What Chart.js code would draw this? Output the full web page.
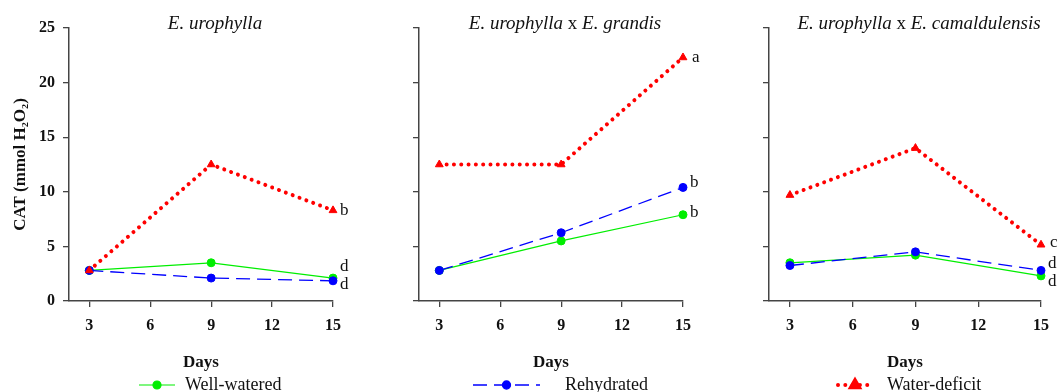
<!DOCTYPE html>
<html>
<head>
<meta charset="utf-8">
<script src="https://cdn.jsdelivr.net/npm/chart.js@4.4.0/dist/chart.umd.min.js"></script>
<style>
html, body { margin: 0; padding: 0; background: #fff; }
#wrap { position: relative; width: 1061px; height: 392px; overflow: hidden; }
canvas { position: absolute; top: 0; }
</style>
</head>
<body>
<div id="wrap">
  <canvas id="c0" width="350" height="392" style="left:0px"></canvas>
  <canvas id="c1" width="350" height="392" style="left:350px"></canvas>
  <canvas id="c2" width="361" height="392" style="left:700px"></canvas>
</div>
<script>
// giorni di campionamento
const days = [3, 9, 15];
const xTicks = [3, 6, 9, 12, 15];
const yTicks = [0, 5, 10, 15, 20, 25];

const seriesNames = ['Water-deficit', 'Rehydrated', 'Well-watered'];

// E. urophylla
const uroDeficit = [2.8, 12.5, 8.3];
const uroRehyd = [2.8, 2.1, 1.85];
const uroWell = [2.8, 3.5, 2.1];
// E. urophylla x E. grandis
const grDeficit = [12.5, 12.5, 22.3];
const grRehyd = [2.8, 6.25, 10.4];
const grWell = [2.8, 5.5, 7.9];
// E. urophylla x E. camaldulensis
const caDeficit = [9.7, 14.0, 5.15];
const caRehyd = [3.25, 4.5, 2.8];
const caWell = [3.5, 4.2, 2.3];

// lettere al giorno 15 (deficit, rehydrated, well-watered)
const uroLetters = ['b', 'd', 'd'];
const grLetters = ['a', 'b', 'b'];
const caLetters = ['c', 'd', 'd'];

const serif = "'Palatino Linotype', 'Book Antiqua', Palatino, 'Liberation Serif', serif";
const axisColor = '#444';
const textColor = '#111';

const styles = [
  { color: '#ff0000', width: 4, dash: [0.01, 7.3], cap: 'round', point: 'triangle', radius: 4.5 },
  { color: '#0000ff', width: 1.3, dash: [14, 7], cap: 'butt', point: 'circle', radius: 4 },
  { color: '#00ee00', width: 1.2, dash: [], cap: 'butt', point: 'circle', radius: 4 }
];

const panels = [
  {
    id: 'c0', values: [uroDeficit, uroRehyd, uroWell], letters: uroLetters,
    title: [['E. urophylla', true]],
    letterOffsets: [[7, 0], [7, 4], [7, -12]],
    legend: { series: 2, x0: 139, x1: 175, tx: 185 }
  },
  {
    id: 'c1', values: [grDeficit, grRehyd, grWell], letters: grLetters,
    title: [['E. urophylla', true], [' x ', false], ['E. grandis', true]],
    letterOffsets: [[9, 0], [7, -5], [7, -2]],
    legend: { series: 1, x0: 123, x1: 190, tx: 215 }
  },
  {
    id: 'c2', values: [caDeficit, caRehyd, caWell], letters: caLetters,
    title: [['E. urophylla', true], [' x ', false], ['E. camaldulensis', true]],
    letterOffsets: [[9, -2], [7, -7], [7, 6]],
    legend: { series: 0, x0: 138, x1: 172, tx: 187 }
  }
];

const decoPlugin = {
  id: 'deco',
  afterDatasetsDraw(chart, args, opts) {
    const ctx = chart.ctx;
    const xs = chart.scales.x, ys = chart.scales.y;
    ctx.save();
    ctx.font = '17px ' + serif;
    ctx.fillStyle = textColor;
    ctx.textBaseline = 'middle';
    ctx.textAlign = 'left';
    opts.letters.forEach((l, i) => {
      const vals = opts.values[i];
      const px = xs.getPixelForValue(days[days.length - 1]);
      const py = ys.getPixelForValue(vals[vals.length - 1]);
      ctx.fillText(l, px + opts.letterOffsets[i][0], py + opts.letterOffsets[i][1]);
    });
    ctx.restore();
  },
  afterDraw(chart, args, opts) {
    const ctx = chart.ctx;
    const area = chart.chartArea;
    ctx.save();
    // titolo
    ctx.fillStyle = textColor;
    ctx.textBaseline = 'middle';
    ctx.textAlign = 'left';
    const fonts = opts.title.map(p => (p[1] ? 'italic ' : '') + '19px ' + serif);
    let total = 0;
    opts.title.forEach((p, i) => { ctx.font = fonts[i]; total += ctx.measureText(p[0]).width; });
    let x = (area.left + area.right) / 2 + 14 - total / 2;
    opts.title.forEach((p, i) => {
      ctx.font = fonts[i];
      ctx.fillText(p[0], x, 24);
      x += ctx.measureText(p[0]).width;
    });
    // legenda
    const lg = opts.legend;
    const ds = chart.data.datasets[lg.series];
    const y = 385;
    ctx.strokeStyle = ds.borderColor;
    ctx.lineWidth = ds.borderWidth;
    ctx.lineCap = ds.borderCapStyle;
    ctx.setLineDash(ds.borderDash);
    ctx.beginPath();
    ctx.moveTo(lg.x0, y);
    ctx.lineTo(lg.x1, y);
    ctx.stroke();
    ctx.setLineDash([]);
    ctx.fillStyle = ds.pointBackgroundColor;
    ctx.strokeStyle = ds.pointBorderColor;
    Chart.helpers.drawPoint(ctx, {
      pointStyle: ds.pointStyle, radius: ds.pointRadius, borderWidth: 1, rotation: 0
    }, (lg.x0 + lg.x1) / 2, y);
    ctx.fillStyle = textColor;
    ctx.font = '18px ' + serif;
    ctx.fillText(ds.label, lg.tx, y);
    ctx.restore();
  }
};

panels.forEach((p, k) => {
  const canvas = document.getElementById(p.id);
  const datasets = seriesNames.map((name, i) => ({
    label: name,
    data: days.map((d, j) => ({ x: d, y: p.values[i][j] })),
    borderColor: styles[i].color,
    borderWidth: styles[i].width,
    borderDash: styles[i].dash,
    borderCapStyle: styles[i].cap,
    pointStyle: styles[i].point,
    pointRadius: styles[i].radius,
    pointBackgroundColor: styles[i].color,
    pointBorderColor: styles[i].color,
    pointBorderWidth: 1,
    tension: 0,
    fill: false,
    clip: false
  }));

  new Chart(canvas.getContext('2d'), {
    type: 'line',
    data: { datasets: datasets },
    plugins: [decoPlugin],
    options: {
      responsive: false,
      animation: false,
      layout: { padding: { top: 28, right: canvas.width - 341, bottom: 0, left: 0 } },
      plugins: {
        legend: { display: false },
        tooltip: { enabled: false },
        deco: p
      },
      scales: {
        x: {
          type: 'linear', min: 2, max: 15,
          afterBuildTicks: s => { s.ticks = xTicks.map(v => ({ value: v })); },
          afterFit: s => { s.height = 91; },
          grid: { drawOnChartArea: false, drawTicks: true, tickLength: 6, color: axisColor, lineWidth: 1.3 },
          border: { color: axisColor, width: 1.5 },
          ticks: { font: { family: serif, size: 16, weight: 'bold' }, color: textColor, padding: 9, maxRotation: 0, autoSkip: false },
          title: { display: true, text: 'Days', font: { family: serif, size: 17, weight: 'bold' }, color: textColor, padding: { top: 0, bottom: 19 } }
        },
        y: {
          min: 0, max: 25,
          afterBuildTicks: s => { s.ticks = yTicks.map(v => ({ value: v })); },
          afterFit: s => { s.width = 69; },
          grid: { drawOnChartArea: false, drawTicks: true, tickLength: 6, color: axisColor, lineWidth: 1.3 },
          border: { color: axisColor, width: 1.5 },
          ticks: { display: k === 0, font: { family: serif, size: 16, weight: 'bold' }, color: textColor, padding: 8 },
          title: { display: k === 0, text: 'CAT (mmol H₂O₂)', font: { family: serif, size: 17, weight: 'bold' }, color: textColor, padding: { top: 10, bottom: 0 } }
        }
      }
    }
  });
});
</script>
</body>
</html>
